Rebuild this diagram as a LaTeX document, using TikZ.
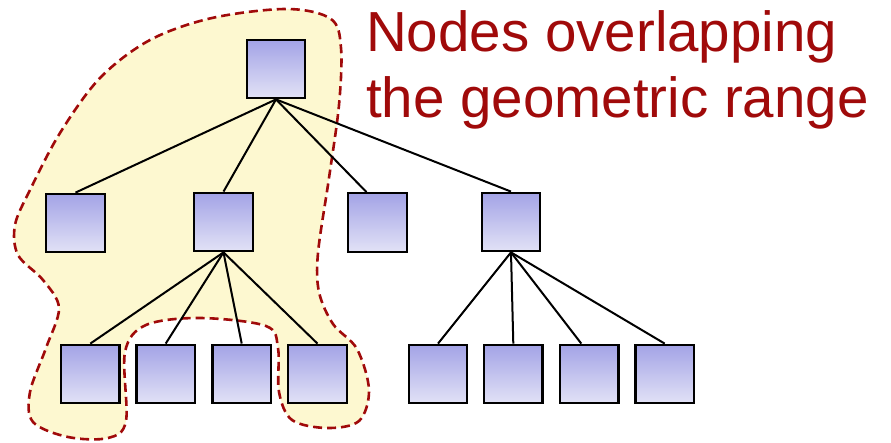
\documentclass[tikz,border=0pt]{standalone}
\usepackage{fontspec}
\newfontfamily\titlefont{Liberation Sans}
\usepackage{tikz}
\definecolor{nodetop}{RGB}{163,163,230}
\definecolor{nodebottom}{RGB}{226,226,246}
\definecolor{rangefill}{RGB}{253,248,208}
\definecolor{rangeline}{RGB}{160,10,10}
\tikzset{
    treenode/.style={draw, line width=2.3pt, minimum size=58.5pt, inner sep=0pt, top color=nodetop, bottom color=nodebottom}, % 树的结点
    link/.style={line width=2pt}, % 父子连线
    rangeblob/.style={fill=rangefill, draw=rangeline, line width=2.6pt, dash pattern=on 9pt off 5pt}, % 重叠区域
    title/.style={text=rangeline, anchor=base west, inner sep=0pt, font=\titlefont\fontsize{56.5}{66}\selectfont}
}
\begin{document}
\begin{tikzpicture}[x=1pt, y=-1pt]
    \useasboundingbox (0,0) rectangle (891,443);

    % overlapping region
    \draw[rangeblob] plot[smooth cycle, tension=0.55] coordinates {
        (287,9) (331,19) (341,48) (339,105) (329,178) (318,253) (319,292) (333,324)
        (357,349) (369,390) (359,421) (327,428) (292,420) (279,392) (278,348) (266,326)
        (200,318) (146,325) (125,352) (126,421) (108,438) (68,437) (33,422) (30,392)
        (46,348) (59,308) (43,280) (18,255) (15,225) (30,190) (60,133) (100,78)
        (150,40) (212,18)};

    % root and second level
    \node[treenode] (root) at (276,69) {};
    \node[treenode] (b1) at (75.5,223) {};
    \node[treenode] (b2) at (223.5,222) {};
    \node[treenode] (b3) at (377.5,222.5) {};
    \node[treenode] (b4) at (511,222) {};

    % leaves
    \foreach \x [count=\i] in {90.3,165.7,241.7,317.5,438,513.3,589.3,664.7} {
        \node[treenode] (c\i) at (\x,374) {};
    }

    \draw[link] (root.south) -- (b1.north);
    \draw[link] (root.south) -- (b2.north);
    \draw[link] (root.south) -- ([xshift=-11pt]b3.north);
    \draw[link] (root.south) -- (b4.north);
    \foreach \i in {1,...,4} {\draw[link] (b2.south) -- (c\i.north);}
    \foreach \i in {5,6,8} {\draw[link] (b4.south) -- (c\i.north);}
    \draw[link] (b4.south) -- ([xshift=-8pt]c7.north);

    \node[title] (title1) at (366,52) {Nodes overlapping};
    \node[title] (title2) at (366,118) {the geometric range};
\end{tikzpicture}
\end{document}
